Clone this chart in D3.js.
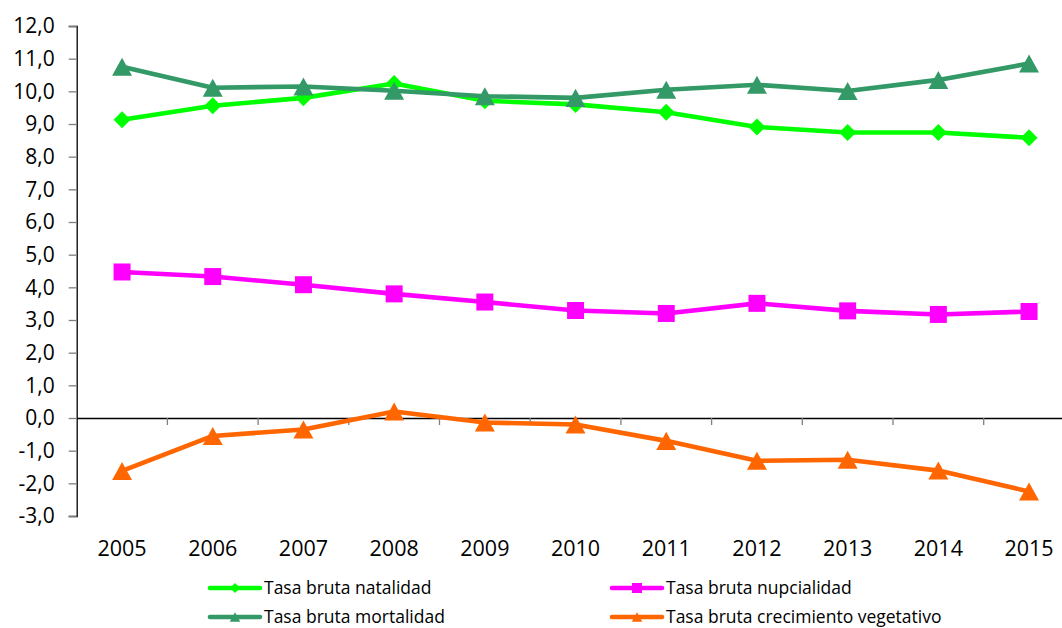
<!DOCTYPE html>
<html><head><meta charset="utf-8">
<script src="https://cdn.jsdelivr.net/npm/d3@7"></script>
<style>
html,body{margin:0;padding:0;background:#fff;}
svg{display:block;font-family:"Open Sans",sans-serif;}
</style></head>
<body>
<svg id="chart" width="1062" height="628"></svg>
<script>
const years = ["2005","2006","2007","2008","2009","2010","2011","2012","2013","2014","2015"];
const natalidad   = [9.13, 9.56, 9.80, 10.24, 9.71, 9.60, 9.36, 8.91, 8.74, 8.74, 8.58];
const nupcialidad = [4.47, 4.33, 4.08, 3.80, 3.55, 3.29, 3.20, 3.51, 3.28, 3.17, 3.26];
const mortalidad  = [10.75, 10.11, 10.15, 10.02, 9.85, 9.80, 10.05, 10.20, 10.01, 10.35, 10.85];
const vegetativo  = [-1.62, -0.55, -0.35, 0.20, -0.14, -0.20, -0.70, -1.31, -1.28, -1.61, -2.25];
const yTicks = [-3,-2,-1,0,1,2,3,4,5,6,7,8,9,10,11,12];
const seriesNames = ["Tasa bruta natalidad","Tasa bruta nupcialidad","Tasa bruta mortalidad","Tasa bruta crecimiento vegetativo"];
const seriesColors = ["#00FF00","#FF00FF","#339966","#FF6600"];
const seriesMarkers = ["diamond","square","triangle","triangle"];
const seriesValues = [natalidad, nupcialidad, mortalidad, vegetativo];

const svg = d3.select("#chart");
const left = 76.7, band = 90.7;
const x = d3.scaleBand().domain(years).range([left, left + band*years.length]).padding(0);
const y = d3.scaleLinear().domain([-3,12]).range([516, 26]);
const cx = d => x(d) + x.bandwidth()/2;

function markerPath(type, s){
  if(type==="diamond"){ const h=s/2; return `M0,${-h}L${h},0L0,${h}L${-h},0Z`; }
  if(type==="square"){ const h=s/2; return `M${-h},${-h}H${h}V${h}H${-h}Z`; }
  const w=s*1.05/2, h=s*0.95/2; return `M0,${-h}L${w},${h}L${-w},${h}Z`;
}

// Y axis
const yAxis = d3.axisLeft(y).tickValues(yTicks).tickSize(8).tickPadding(14)
  .tickFormat(d => d3.format(".1f")(d).replace(".", ",").replace("−","-"));
const gy = svg.append("g").attr("transform", `translate(${left},0)`).call(yAxis);
gy.select(".domain").attr("stroke","#000").attr("stroke-width",1.3);
gy.selectAll(".tick line").attr("stroke","#7f7f7f").attr("stroke-width",1.3);
gy.selectAll(".tick text").attr("font-size",21).attr("fill","#000").attr("font-family","Open Sans, sans-serif");

// X axis at zero
const xAxis = d3.axisBottom(x).tickSize(0).tickFormat(()=> "");
const gx = svg.append("g").attr("transform", `translate(0,${y(0)})`).call(xAxis);
gx.select(".domain").attr("stroke","#000").attr("stroke-width",1.3);
// category boundary ticks
gx.selectAll(".bound").data(years.slice(1).concat(["end"])).enter().append("line")
  .attr("x1",(d,i)=> left + band*(i+1)).attr("x2",(d,i)=> left + band*(i+1))
  .attr("y1",0).attr("y2",7).attr("stroke","#7f7f7f").attr("stroke-width",1.3);

// X labels at bottom
svg.append("g").selectAll("text").data(years).enter().append("text")
  .attr("x", d=>cx(d)).attr("y", 556).attr("text-anchor","middle")
  .attr("font-size",21.5).attr("fill","#000").text(d=>d);

// Series
const line = d3.line().x((d,i)=>cx(years[i])).y(d=>y(d));
seriesValues.forEach((vals, si) => {
  const g = svg.append("g");
  g.append("path").datum(vals).attr("d", line).attr("fill","none")
    .attr("stroke", seriesColors[si]).attr("stroke-width",4.6).attr("stroke-linejoin","round");
  const size = seriesMarkers[si]==="triangle" ? 19 : 17;
  g.selectAll("path.m").data(vals).enter().append("path").attr("class","m")
    .attr("transform",(d,i)=>`translate(${cx(years[i])},${y(d)})`)
    .attr("d", markerPath(seriesMarkers[si], size))
    .attr("fill", seriesColors[si]);
});

// Legend
const legPos = [[210,588],[612,588],[210,617],[612,617]];
seriesNames.forEach((name, si) => {
  const [lx, ly] = legPos[si];
  const g = svg.append("g");
  g.append("line").attr("x1",lx).attr("x2",lx+50).attr("y1",ly).attr("y2",ly)
    .attr("stroke",seriesColors[si]).attr("stroke-width",4.6).attr("stroke-linecap","round");
  g.append("path").attr("transform",`translate(${lx+25},${ly})`)
    .attr("d", markerPath(seriesMarkers[si], 10)).attr("fill",seriesColors[si]);
  g.append("text").attr("x",lx+54).attr("y",ly+6).attr("font-size",17.5).attr("fill","#000").text(name);
});
</script>
</body></html>
